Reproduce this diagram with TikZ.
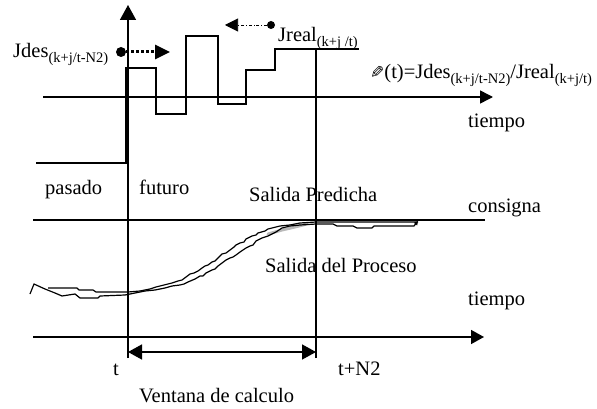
\documentclass[tikz,border=0pt]{standalone}
\usepackage{fontspec}
\usepackage{graphicx}
\setmainfont{Liberation Serif}
\newfontfamily\symfnt{DejaVu Sans}
\usetikzlibrary{arrows.meta}
\newcommand{\lowsub}[1]{\raisebox{-5pt}{\fontsize{14.5}{15}\selectfont #1}}
\begin{document}
\begin{tikzpicture}[x=1pt,y=-1pt,
  lbl/.style={anchor=base west,inner sep=0pt,font=\fontsize{20.5}{24}\selectfont},
  axis/.style={line width=1.5pt},
  sig/.style={line width=1.5pt,line join=miter},
  curve/.style={line width=1.2pt,line join=round},
  bigtip/.style={-{Triangle[length=14pt,width=14pt]}}]
\useasboundingbox (0,0) rectangle (597,409);
% coordinates
\coordinate (vb) at (128,358);
\coordinate (vt) at (128,5);
\coordinate (ha) at (43,97);
\coordinate (hb) at (493,97);
\coordinate (ca) at (33,220);
\coordinate (cb) at (485,220);
\coordinate (la) at (33,337);
\coordinate (lb) at (484,337);
\coordinate (wt) at (316,49);
\coordinate (wb) at (316,358);
\coordinate (da) at (128,352);
\coordinate (db) at (316,352);
% axes
\draw[axis,-{Triangle[length=15pt,width=16pt]}] (vb) -- (vt);
\draw[axis,-{Triangle[length=13pt,width=13pt]}] (ha) -- (hb);
\draw[axis] (ca) -- (cb);
\draw[axis,-{Triangle[length=13pt,width=14pt]}] (la) -- (lb);
\draw[axis] (wb) -- (wt);
\draw[axis,{Triangle[length=14pt,width=15pt]}-{Triangle[length=14pt,width=15pt]}] (da) -- (db);
% step signal
\draw[sig] (36,163) -- (126,163) -- (126,68) -- (156,68) -- (156,114) -- (186,114)
  -- (186,36) -- (218,36) -- (218,104) -- (246,104) -- (246,70) -- (275,70)
  -- (275,49) -- (359,49);
% Jdes arrow
\node[circle,fill=black,inner sep=0pt,minimum size=10pt] (d1) at (121,52) {};
\coordinate (d1e) at (170,52);
\draw[line width=3pt,dotted,-{Triangle[length=15pt,width=14pt]}] (d1) -- (d1e);
% Jreal arrow
\node[circle,fill=black,inner sep=0pt,minimum size=8pt] (d2) at (271,25) {};
\coordinate (d2e) at (225,25);
\draw[line width=0.6pt,dash dot,-{Triangle[length=13pt,width=13pt]}] (d2) -- (d2e);
% gray sliver
\draw[gray!55,line width=3pt,line cap=round] (268,234) -- (282,230) -- (295,227) -- (307,224);
% predicted output
\draw[curve] (48,288) -- (77,288) -- (79,290) -- (93,290) -- (96,292) -- (128,292)
  -- (140,291) -- (150,289) -- (156,287) -- (160,286) -- (168,284) -- (172,283) -- (178,281)
  -- (182,280) -- (186,277) -- (190,274) -- (194,273) -- (198,271) -- (202,268) -- (205,266)
  -- (208,265) -- (212,262) -- (215,261) -- (218,258) -- (222,254) -- (226,253) -- (230,250)
  -- (234,247) -- (236,245) -- (240,243) -- (244,242) -- (246,239) -- (252,236) -- (256,235)
  -- (258,233) -- (265,231) -- (268,229) -- (272,228) -- (280,226) -- (290,225)
  -- (300,223) -- (316,222) -- (418,222);
% process output
\draw[curve] (30,294) -- (34,284) -- (45,289) -- (55,293) -- (62,296) -- (75,294)
  -- (80,298) -- (98,298) -- (100,296) -- (125,295) -- (135,293) -- (145,291)
  -- (155,290) -- (165,288) -- (172,286) -- (180,285) -- (184,284) -- (188,282) -- (195,279)
  -- (200,276) -- (203,276) -- (206,273) -- (212,270) -- (215,269) -- (218,266) -- (222,263)
  -- (226,260) -- (230,258) -- (233,257) -- (236,255) -- (240,252) -- (246,248) -- (250,246)
  -- (253,245) -- (256,241) -- (262,238) -- (268,236) -- (276,232) -- (282,228)
  -- (290,226) -- (300,225) -- (316,224) -- (333,224) -- (337,226) -- (353,226)
  -- (357,228) -- (372,228) -- (374,226) -- (414,226)
  [-{Triangle[length=4pt,width=4pt]}] -- (418,221);
% labels
\node[lbl] (jdes) at (13,58) {Jdes\lowsub{(k+j/t-N2)}};
\node[lbl] (jreal) at (278,42) {Jreal\lowsub{(k+j /t)}};
\node[lbl] (form) at (370,79) {{\fontsize{17}{20}\symfnt\reflectbox{✎}}(t)=Jdes\lowsub{(k+j/t-N2)}/Jreal\lowsub{(k+j/t)}};
\node[lbl] (tiempo1) at (468,128) {tiempo};
\node[lbl] (pasado) at (45,194) {pasado};
\node[lbl] (futuro) at (139,194) {futuro};
\node[lbl] (predicha) at (249,201) {Salida Predicha};
\node[lbl] (consigna) at (468,212) {consigna};
\node[lbl] (proceso) at (265,272) {Salida del Proceso};
\node[lbl] (tiempo2) at (468,305) {tiempo};
\node[lbl] (tlab) at (113,375) {t};
\node[lbl] (tn2) at (338,375) {t+N2};
\node[lbl] (ventana) at (139,402) {Ventana de calculo};
\end{tikzpicture}
\end{document}
